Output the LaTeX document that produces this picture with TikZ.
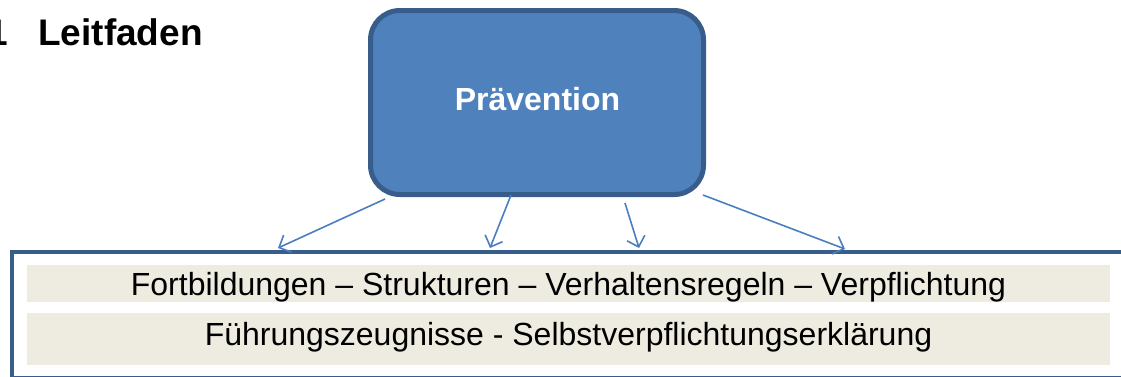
\documentclass[tikz,border=0pt]{standalone}
\usepackage{fontspec}
\setmainfont{Liberation Sans}
\usetikzlibrary{arrows.meta}
\definecolor{boxfill}{HTML}{4F81BD}
\definecolor{boxline}{HTML}{385D8A}
\definecolor{arrowc}{HTML}{4A7EBF}
\definecolor{bandc}{HTML}{EEECE1}
\begin{document}
\begin{tikzpicture}[x=0.75pt,y=-0.75pt,
  mainbox/.style={draw=boxline, line width=3.75pt, fill=boxfill, rounded corners=22pt,
    minimum width=249.75pt, minimum height=138pt, inner sep=0pt,
    text=white, font=\fontsize{24}{28}\selectfont\bfseries},
  framebox/.style={draw=boxline, line width=3pt, minimum width=842pt, minimum height=94.5pt,
    anchor=north west, inner sep=0pt},
  band/.style={fill=bandc, minimum width=812.25pt, inner sep=0pt},
  bandtext/.style={anchor=base, inner sep=0pt, font=\fontsize{24}{28}\selectfont},
  conn/.style={draw=arrowc, line width=1.2pt, -{Straight Barb[length=7pt,width=14pt,line width=1.2pt]}}
]
\useasboundingbox (0,0) rectangle (1121,376);
% title
\node[anchor=base west, inner sep=0pt, font=\fontsize{27.75}{32}\selectfont\bfseries] (title) at (38,45) {Leitfaden};
\node[anchor=base east, inner sep=0pt, font=\fontsize{27.75}{32}\selectfont\bfseries] (num) at (8,45) {1};
% main box
\node[mainbox] (prev) at (537,102.5) {};
\node[anchor=base, inner sep=0pt, text=white, font=\fontsize{24}{28}\selectfont\bfseries] (prevtext) at (537.5,110) {Prävention};
% frame
\node[framebox] (frame) at (9.5,249.5) {};
\node[band, minimum height=28.1pt] (band1) at (568.5,283.75) {};
\node[band, minimum height=39pt] (band2) at (568.5,339) {};
\node[bandtext] (t1) at (568.5,295) {Fortbildungen – Strukturen – Verhaltensregeln – Verpflichtung};
\node[bandtext] (t2) at (568.5,345) {Führungszeugnisse - Selbstverpflichtungserklärung};
% connector ends
\coordinate (s1) at (385,199);
\coordinate (s2) at (511,195);
\coordinate (s3) at (625,203);
\coordinate (s4) at (703,195);
\coordinate (e1) at (278,248);
\coordinate (e2) at (490,248);
\coordinate (e3) at (639,248);
\coordinate (e4) at (845,249);
\draw[conn] (s1) -- (e1);
\draw[conn] (s2) -- (e2);
\draw[conn] (s3) -- (e3);
\draw[conn] (s4) -- (e4);
\end{tikzpicture}
\end{document}
